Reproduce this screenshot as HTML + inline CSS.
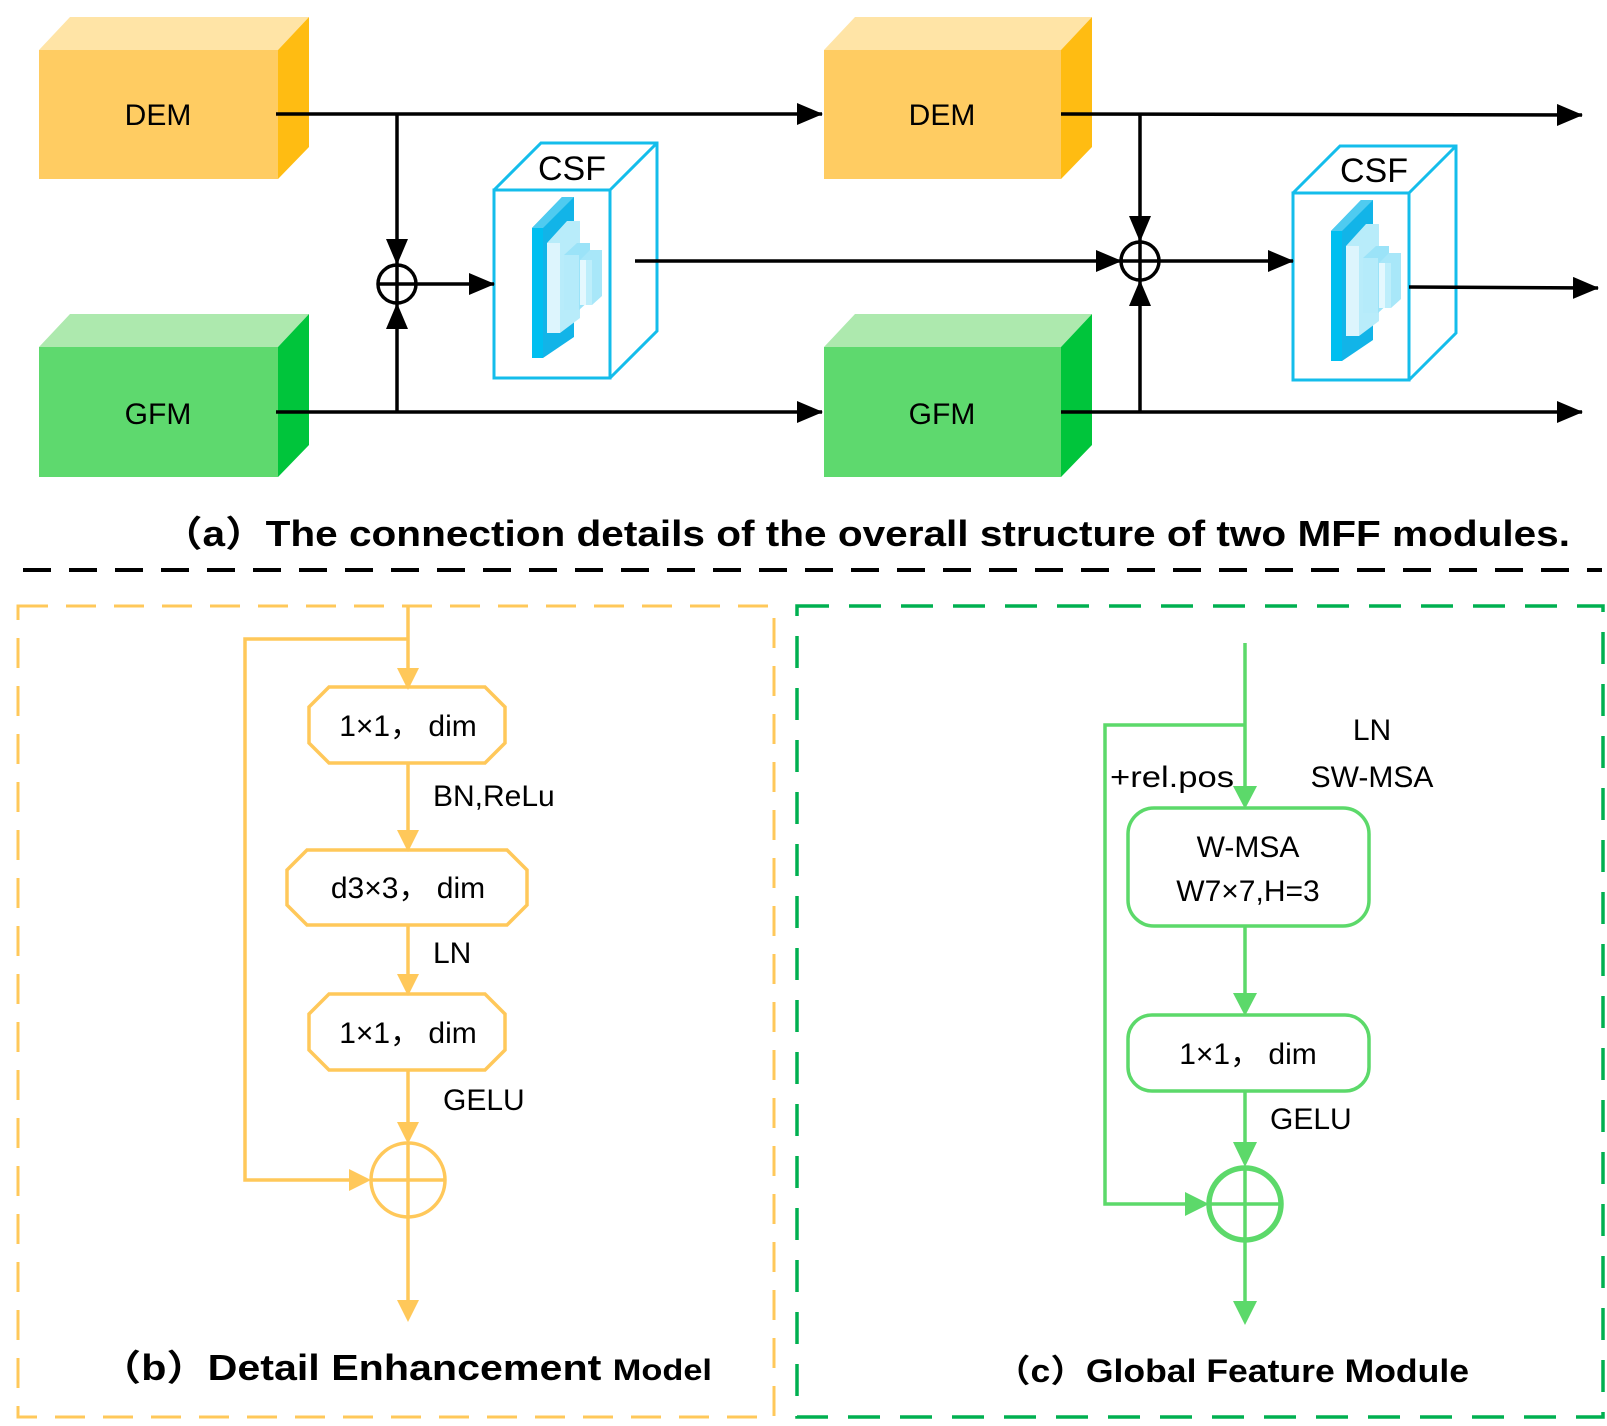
<!DOCTYPE html>
<html><head><meta charset="utf-8"><style>
html,body{margin:0;padding:0;background:#fff}
svg{display:block}
text{font-family:"Liberation Sans","Noto Sans CJK SC",sans-serif}
</style></head><body>
<svg width="1607" height="1426" viewBox="0 0 1607 1426" xmlns="http://www.w3.org/2000/svg">
<defs>
<marker id="ab" markerWidth="26" markerHeight="22" refX="25" refY="11" orient="auto" markerUnits="userSpaceOnUse" viewBox="0 0 26 22"><path d="M0,0 L26,11 L0,22z" fill="#000"/></marker>
<g id="slabs">
  <polygon points="530,228 560,197 572,197 572,337 541,358 541,228" fill="#12B4E8"/>
  <polygon points="530,228 560,197 572,197 541,228" fill="#4FCBF0"/>
  <rect x="530" y="228" width="11" height="130" fill="#00BFF0"/>
  <polygon points="545,243 565,221 578,221 578,318 558,333 558,243" fill="#B8ECFA"/>
  <rect x="545" y="243" width="13" height="90" fill="#DDF5FD"/>
  <polygon points="562,255 575,243 588,243 588,300 577,310 577,255" fill="#9BE3F8"/>
  <rect x="562" y="255" width="15" height="55" fill="#B5EBFA"/>
  <polygon points="578,260 588,250 600,250 600,296 590,305 590,260" fill="#A8E7F9"/>
  <rect x="578" y="260" width="6" height="45" fill="#E4F8FE"/>
  <rect x="584" y="260" width="6" height="45" fill="#BDEEFB"/>
</g>
</defs>

<!-- DEM 1 -->
<polygon points="39,50 70,17 309,17 278,50" fill="#FFE4A6"/>
<polygon points="278,50 309,17 309,147 278,179" fill="#FFBC12"/>
<rect x="39" y="50" width="239" height="129" fill="#FFCC62"/>
<text x="158" y="125" font-size="30" text-anchor="middle">DEM</text>
<!-- GFM 1 -->
<polygon points="39,347 70,314 309,314 278,347" fill="#ADE9AE"/>
<polygon points="278,347 309,314 309,445 278,477" fill="#00C53B"/>
<rect x="39" y="347" width="239" height="130" fill="#5ED96E"/>
<text x="158" y="424" font-size="30" text-anchor="middle">GFM</text>
<!-- DEM 2 -->
<polygon points="824,50 855,17 1092,17 1061,50" fill="#FFE4A6"/>
<polygon points="1061,50 1092,17 1092,147 1061,179" fill="#FFBC12"/>
<rect x="824" y="50" width="237" height="129" fill="#FFCC62"/>
<text x="942" y="125" font-size="30" text-anchor="middle">DEM</text>
<!-- GFM 2 -->
<polygon points="824,347 855,314 1092,314 1061,347" fill="#ADE9AE"/>
<polygon points="1061,347 1092,314 1092,445 1061,477" fill="#00C53B"/>
<rect x="824" y="347" width="237" height="130" fill="#5ED96E"/>
<text x="942" y="424" font-size="30" text-anchor="middle">GFM</text>

<!-- CSF 1 -->
<g fill="none" stroke="#14BDEB" stroke-width="3">
<rect x="494" y="190" width="116" height="188" fill="#fff"/>
<polyline points="494,190 541,143 657,143 657,331 610,378"/>
<line x1="610" y1="190" x2="657" y2="143"/>
</g>
<use href="#slabs" transform="translate(2,0)"/>
<text x="572" y="180" font-size="34" text-anchor="middle">CSF</text>
<!-- CSF 2 -->
<g fill="none" stroke="#14BDEB" stroke-width="3">
<rect x="1293" y="193" width="116" height="187" fill="#fff"/>
<polyline points="1293,193 1340,146 1456,146 1456,333 1409,380"/>
<line x1="1409" y1="193" x2="1456" y2="146"/>
</g>
<use href="#slabs" transform="translate(801,3)"/>
<text x="1374" y="182" font-size="34" text-anchor="middle">CSF</text>

<!-- black connectors -->
<g stroke="#000" stroke-width="3.5" fill="none">
<line x1="276" y1="114" x2="822" y2="114" marker-end="url(#ab)"/>
<line x1="276" y1="412" x2="822" y2="412" marker-end="url(#ab)"/>
<line x1="397" y1="114" x2="397" y2="264" marker-end="url(#ab)"/>
<line x1="397" y1="412" x2="397" y2="304" marker-end="url(#ab)"/>
<circle cx="397" cy="284" r="19"/>
<line x1="378" y1="284" x2="416" y2="284"/><line x1="397" y1="265" x2="397" y2="303"/>
<line x1="416" y1="284" x2="494" y2="284" marker-end="url(#ab)"/>
<line x1="635" y1="261" x2="1121" y2="261" marker-end="url(#ab)"/>
<line x1="1061" y1="114" x2="1582" y2="115" marker-end="url(#ab)"/>
<line x1="1061" y1="412" x2="1582" y2="412" marker-end="url(#ab)"/>
<line x1="1140" y1="114" x2="1140" y2="241" marker-end="url(#ab)"/>
<line x1="1140" y1="412" x2="1140" y2="281" marker-end="url(#ab)"/>
<circle cx="1140" cy="261" r="19"/>
<line x1="1121" y1="261" x2="1159" y2="261"/><line x1="1140" y1="242" x2="1140" y2="280"/>
<line x1="1159" y1="261" x2="1293" y2="261" marker-end="url(#ab)"/>
<line x1="1409" y1="287" x2="1598" y2="288" marker-end="url(#ab)"/>
</g>

<text x="162" y="546" font-size="36" font-weight="bold" textLength="1408" lengthAdjust="spacingAndGlyphs">（a）The connection details of the overall structure of two MFF modules.</text>
<line x1="23" y1="570" x2="1602" y2="570" stroke="#000" stroke-width="4" stroke-dasharray="28,18"/>

<!-- panel b -->
<rect x="18" y="606" width="756" height="811" fill="none" stroke="#FFC85A" stroke-width="3" stroke-dasharray="30,18"/>
<g stroke="#FFC85A" stroke-width="3.5" fill="none">
<line x1="408" y1="606" x2="408" y2="668"/>
<polyline points="408,639 245,639 245,1180 352,1180"/>
<polygon points="309,707 329,687 485,687 505,707 505,743 485,763 329,763 309,743" fill="#fff"/>
<line x1="408" y1="763" x2="408" y2="832"/>
<polygon points="287,870 307,850 507,850 527,870 527,905 507,925 307,925 287,905" fill="#fff"/>
<line x1="408" y1="925" x2="408" y2="976"/>
<polygon points="309,1014 329,994 485,994 505,1014 505,1050 485,1070 329,1070 309,1050" fill="#fff"/>
<line x1="408" y1="1070" x2="408" y2="1124"/>
<circle cx="408" cy="1180" r="37"/>
<line x1="371" y1="1180" x2="445" y2="1180"/><line x1="408" y1="1143" x2="408" y2="1217"/>
<line x1="408" y1="1217" x2="408" y2="1300"/>
</g>
<g fill="#FFC85A">
<polygon points="397,668 419,668 408,690"/>
<polygon points="397,830 419,830 408,852"/>
<polygon points="397,974 419,974 408,996"/>
<polygon points="397,1122 419,1122 408,1144"/>
<polygon points="349,1169 349,1191 371,1180"/>
<polygon points="397,1300 419,1300 408,1322"/>
</g>
<g font-size="30" text-anchor="middle">
<text x="408" y="736">1×1， dim</text>
<text x="408" y="898">d3×3， dim</text>
<text x="408" y="1043">1×1， dim</text>
</g>
<g font-size="30">
<text x="433" y="806">BN,ReLu</text>
<text x="433" y="963">LN</text>
<text x="443" y="1110">GELU</text>
</g>
<text x="100" y="1380" font-size="36" font-weight="bold" textLength="612" lengthAdjust="spacingAndGlyphs">（b）Detail Enhancement <tspan font-size="30">Model</tspan></text>

<!-- panel c -->
<rect x="797" y="606" width="806" height="811" fill="none" stroke="#00B050" stroke-width="3.5" stroke-dasharray="32,20"/>
<g stroke="#5CD96A" stroke-width="3.5" fill="none">
<line x1="1245" y1="643" x2="1245" y2="786"/>
<polyline points="1245,725 1105,725 1105,1204 1186,1204"/>
<rect x="1128" y="808" width="241" height="118" rx="26" fill="#fff"/>
<line x1="1245" y1="926" x2="1245" y2="993"/>
<rect x="1128" y="1015" width="241" height="76" rx="24" fill="#fff"/>
<line x1="1245" y1="1091" x2="1245" y2="1144"/>
<circle cx="1245" cy="1204" r="36" stroke-width="5.5"/>
<line x1="1209" y1="1204" x2="1281" y2="1204"/><line x1="1245" y1="1168" x2="1245" y2="1240"/>
<line x1="1245" y1="1240" x2="1245" y2="1303"/>
</g>
<g fill="#5CD96A">
<polygon points="1233,786 1257,786 1245,809"/>
<polygon points="1233,993 1257,993 1245,1016"/>
<polygon points="1233,1142 1257,1142 1245,1167"/>
<polygon points="1185,1192 1185,1216 1209,1204"/>
<polygon points="1233,1301 1257,1301 1245,1325"/>
</g>
<g font-size="30" text-anchor="middle">
<text x="1248" y="857">W-MSA</text>
<text x="1248" y="901">W7×7,H=3</text>
<text x="1248" y="1064">1×1， dim</text>
<text x="1372" y="740">LN</text>
<text x="1372" y="787">SW-MSA</text>
</g>
<text x="1110" y="787" font-size="30" textLength="124" lengthAdjust="spacingAndGlyphs">+rel.pos</text>
<text x="1270" y="1129" font-size="30">GELU</text>
<text x="995" y="1382" font-size="32" font-weight="bold" textLength="474" lengthAdjust="spacingAndGlyphs">（c）Global Feature Module</text>
</svg>
</body></html>
